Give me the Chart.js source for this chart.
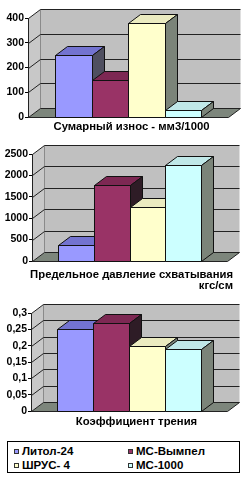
<!DOCTYPE html>
<html>
<head>
<meta charset="utf-8">
<script src="https://cdn.jsdelivr.net/npm/chart.js@4.4.1/dist/chart.umd.min.js"></script>
<style>
  html, body { margin: 0; padding: 0; background: #fff; }
  body { width: 250px; height: 479px; position: relative; overflow: hidden; font-family: "Liberation Sans", Arial, sans-serif; }
  canvas { position: absolute; left: 0; }
  #legend { position: absolute; left: 7px; top: 441px; width: 233px; height: 32px; border: 1px solid #000; box-sizing: border-box; }
  #legend .item { position: absolute; height: 14px; line-height: 14px; font-weight: bold; font-size: 11.5px; white-space: nowrap; }
  #legend .mark { display: inline-block; width: 3px; height: 3px; border: 1px solid #333; margin-right: 3px; vertical-align: 1px; }
</style>
</head>
<body>
<canvas id="wearChart" width="250" height="136" style="top:0"></canvas>
<canvas id="seizureChart" width="250" height="152" style="top:138px"></canvas>
<canvas id="frictionChart" width="250" height="140" style="top:292px"></canvas>
<div id="legend"></div>
<script>
// series (legend order)
const series = ['Литол-24', 'МС-Вымпел', 'ШРУС- 4', 'МС-1000'];

// wear, mm3/1000
const wearValues = [250, 150, 380, 30];
const wearTicks = [0, 100, 200, 300, 400];

// seizure load, kgf/cm
const seizureValues = [370, 1770, 1270, 2250];
const seizureTicks = [0, 500, 1000, 1500, 2000, 2500];

// friction coefficient
const frictionValues = [0.25, 0.27, 0.2, 0.19];
const frictionTicks = [0, 0.05, 0.1, 0.15, 0.2, 0.25, 0.3];

// colours: front / top / side faces
const FRONT = ['#9999ff', '#993366', '#ffffcc', '#ccffff'];
const TOP = ['#7373d0', '#7d2853', '#ebebc0', '#c0e8e8'];
const SIDE = ['#4f4f60', '#2e1c26', '#7b8479', '#7b8479'];

const DX = 12, DY = -9;
const FONT = '"Liberation Sans", Arial, sans-serif';

function poly(ctx, pts, fill, stroke) {
    ctx.beginPath();
    ctx.moveTo(pts[0][0], pts[0][1]);
    for (let i = 1; i < pts.length; i++) ctx.lineTo(pts[i][0], pts[i][1]);
    ctx.closePath();
    if (fill) { ctx.fillStyle = fill; ctx.fill(); }
    if (stroke) { ctx.strokeStyle = stroke; ctx.lineWidth = 1; ctx.stroke(); }
}

// excel-like 3D walls, floor and boxes
const box3d = {
    id: 'box3d',
    beforeDatasetsDraw(chart) {
        const {ctx, chartArea: a, scales: {y}} = chart;
        const L = a.left + 0.5, R = a.right + 0.5, T = a.top + 0.5, B = a.bottom + 0.5;
        ctx.save();
        ctx.fillStyle = '#c0c0c0';
        ctx.fillRect(L + DX, T + DY, R - L, B - T);
        poly(ctx, [[L, T], [L + DX, T + DY], [L + DX, B + DY], [L, B]], '#c8c8c8', null);
        poly(ctx, [[L, B], [L + DX, B + DY], [R + DX, B + DY], [R, B]], '#7d867c', null);
        ctx.strokeStyle = '#8a8a8a';
        ctx.beginPath();
        ctx.moveTo(L + DX, T + DY); ctx.lineTo(L + DX, B + DY);
        ctx.stroke();
        ctx.strokeStyle = '#222';
        y.ticks.forEach(t => {
            const py = Math.round(y.getPixelForValue(t.value)) + 0.5;
            ctx.beginPath();
            ctx.moveTo(L, py); ctx.lineTo(L + DX, py + DY); ctx.lineTo(R + DX, py + DY);
            ctx.stroke();
        });
        ctx.beginPath();
        ctx.moveTo(L, T); ctx.lineTo(L, B); ctx.lineTo(R, B); ctx.lineTo(R + DX, B + DY);
        ctx.stroke();
        ctx.restore();
    },
    afterDatasetsDraw(chart) {
        const ctx = chart.ctx;
        ctx.save();
        chart.data.datasets.forEach((ds, i) => {
            const bar = chart.getDatasetMeta(i).data[0];
            const x0 = Math.round(bar.x - bar.width / 2) + 0.5, x1 = Math.round(bar.x + bar.width / 2) + 0.5;
            const yt = Math.round(bar.y) + 0.5, yb = Math.round(bar.base) + 0.5;
            poly(ctx, [[x0, yt], [x1, yt], [x1, yb], [x0, yb]], FRONT[i], '#111');
            poly(ctx, [[x0, yt], [x0 + DX, yt + DY], [x1 + DX, yt + DY], [x1, yt]], TOP[i], '#111');
            poly(ctx, [[x1, yt], [x1 + DX, yt + DY], [x1 + DX, yb + DY], [x1, yb]], SIDE[i], '#111');
        });
        ctx.restore();
    },
    afterDraw(chart, args, opts) {
        const ctx = chart.ctx;
        ctx.save();
        ctx.fillStyle = '#000';
        ctx.font = 'bold 11.3px ' + FONT;
        ctx.textBaseline = 'middle';
        opts.lines.forEach((line, k) => {
            ctx.textAlign = opts.align;
            ctx.fillText(line, opts.x, opts.y + k * 11);
        });
        ctx.restore();
    }
};

function makeChart(id, values, ticks, yWidth, pad, caption, fmt) {
    new Chart(document.getElementById(id), {
        type: 'bar',
        data: {
            labels: [''],
            datasets: series.map((name, i) => ({
                label: name,
                data: [values[i]],
                backgroundColor: FRONT[i],
                borderColor: '#111',
                borderWidth: 1,
                categoryPercentage: 0.73,
                barPercentage: 1
            }))
        },
        options: {
            responsive: false,
            animation: false,
            layout: { padding: pad },
            scales: {
                x: { display: false },
                y: {
                    min: ticks[0],
                    max: ticks[ticks.length - 1],
                    afterBuildTicks: s => { s.ticks = ticks.map(v => ({ value: v })); },
                    afterFit: s => { s.width = yWidth; },
                    ticks: {
                        color: '#000',
                        padding: 1,
                        font: { family: FONT, size: 10.5, weight: 'bold' },
                        callback: v => fmt ? fmt(v) : String(v)
                    },
                    grid: { drawOnChartArea: false, drawTicks: true, tickLength: 3, color: '#000' },
                    border: { display: true, color: '#000' }
                }
            },
            plugins: {
                legend: { display: false },
                tooltip: { enabled: false },
                box3d: caption
            }
        },
        plugins: [box3d]
    });
}

makeChart('wearChart', wearValues, wearTicks, 28, { top: 18, right: 22, bottom: 19, left: 0 },
    { lines: ['Сумарный износ - мм3/1000'], x: 131.5, y: 127, align: 'center' });

makeChart('seizureChart', seizureValues, seizureTicks, 32, { top: 16, right: 23, bottom: 29, left: 0 },
    { lines: ['Предельное давление схватывания', 'кгс/см'], x: 233, y: 137, align: 'right' });

makeChart('frictionChart', frictionValues, frictionTicks, 31, { top: 21, right: 23, bottom: 21, left: 0 },
    { lines: ['Коэффициент трения'], x: 136.5, y: 130, align: 'center' },
    v => String(v).replace('.', ','));

// legend as a 2x2 grid
const legend = document.getElementById('legend');
series.forEach((name, i) => {
    const item = document.createElement('div');
    item.className = 'item';
    item.style.left = (i % 2 ? 120 : 6) + 'px';
    item.style.top = (i < 2 ? 2 : 16) + 'px';
    const mark = document.createElement('span');
    mark.className = 'mark';
    mark.style.background = FRONT[i];
    item.appendChild(mark);
    item.appendChild(document.createTextNode(name));
    legend.appendChild(item);
});
</script>
</body>
</html>
